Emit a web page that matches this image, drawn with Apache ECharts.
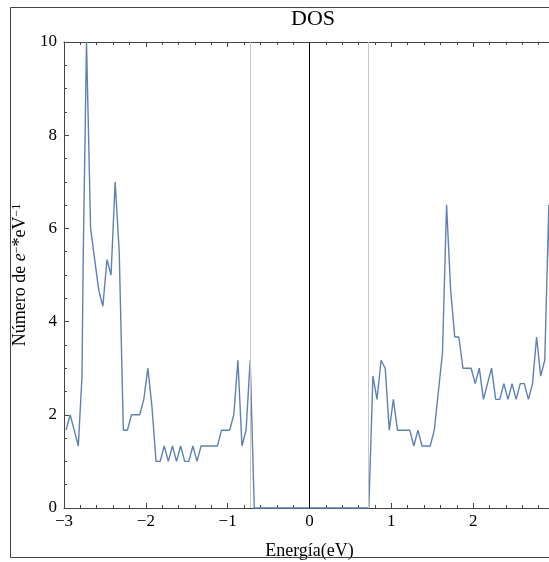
<!DOCTYPE html>
<html>
<head>
<meta charset="utf-8">
<script src="https://cdn.jsdelivr.net/npm/echarts@6/dist/echarts.min.js"></script>
<style>
html,body{margin:0;padding:0;background:#fff;overflow:hidden;}
#c{width:600px;height:562px;}
</style>
</head>
<body>
<div id="c"></div>
<script>
// Energy grid (eV) and density of states
const energy = [
 -2.975,-2.925,-2.875,-2.825,-2.78,-2.765,-2.725,-2.675,-2.625,-2.575,-2.525,-2.475,-2.425,-2.375,-2.325,
 -2.275,-2.225,-2.175,-2.125,-2.075,-2.025,-1.975,-1.925,-1.875,-1.825,-1.775,-1.725,-1.675,-1.625,-1.575,
 -1.525,-1.475,-1.425,-1.375,-1.325,-1.275,-1.225,-1.175,-1.125,-1.075,-1.025,-0.975,-0.925,-0.875,-0.825,
 -0.775,-0.725,-0.675,-0.625,-0.575,-0.525,-0.475,-0.425,-0.375,-0.325,-0.275,-0.225,-0.175,-0.125,-0.075,
 -0.025,0.025,0.075,0.125,0.175,0.225,0.275,0.325,0.375,0.425,0.475,0.525,0.575,0.625,0.675,0.725,
 0.775,0.825,0.875,0.925,0.975,1.025,1.075,1.125,1.175,1.225,1.275,1.325,1.375,1.425,1.475,1.525,1.575,
 1.625,1.675,1.725,1.775,1.825,1.875,1.925,1.975,2.025,2.075,2.125,2.175,2.225,2.275,2.325,2.375,2.425,
 2.475,2.525,2.575,2.625,2.675,2.725,2.775,2.825,2.875,2.925,2.975
];
const dos = [
 1.67,2.0,1.67,1.33,2.83,5.4,10.0,6.0,5.33,4.67,4.33,5.33,5.0,7.0,5.5,
 1.67,1.67,2.0,2.0,2.0,2.33,3.0,2.17,1.0,1.0,1.33,1.0,1.33,1.0,1.33,
 1.0,1.0,1.33,1.0,1.33,1.33,1.33,1.33,1.33,1.67,1.67,1.67,2.0,3.17,1.33,
 1.67,3.17,0,0,0,0,0,0,0,0,0,0,0,0,0,
 0,0,0,0,0,0,0,0,0,0,0,0,0,0,0,0,
 2.83,2.33,3.17,3.0,1.67,2.33,1.67,1.67,1.67,1.67,1.33,1.67,1.33,1.33,1.33,1.67,2.5,
 3.33,6.5,4.67,3.67,3.67,3.0,3.0,3.0,2.67,3.0,2.33,2.67,3.0,2.33,2.33,2.67,2.33,
 2.67,2.33,2.67,2.67,2.33,2.67,3.67,2.83,3.17,6.5,0
];
const xTicks = { min: -3, max: 3, interval: 1 };
const yTicks = { min: 0, max: 10, interval: 2 };
const bandEdges = [-0.725, 0.725];
const fermiLevel = 0;

const serif = '"Liberation Serif","DejaVu Serif",serif';
const minus = v => String(v).replace('-', '\u2212');

const axisLineStyle = { color: '#444', width: 1 };
const chart = echarts.init(document.getElementById('c'));
chart.setOption({
  animation: false,
  backgroundColor: '#fff',
  title: {
    text: 'DOS', left: 308, top: 3, textAlign: 'center',
    textStyle: { fontFamily: serif, fontSize: 22, fontWeight: 'normal', color: '#000' }
  },
  graphic: [{
    type: 'rect', silent: true, z: 100,
    shape: { x: 10.5, y: 7.5, width: 640, height: 550 },
    style: { fill: 'none', stroke: '#444', lineWidth: 1 }
  }],
  grid: { left: 64, right: 45, top: 42, bottom: 54, outerBoundsMode: 'none', containLabel: false },
  xAxis: [{
    type: 'value', min: xTicks.min, max: xTicks.max, interval: xTicks.interval,
    position: 'bottom',
    name: 'Energía(eV)', nameLocation: 'middle', nameGap: 34,
    nameTextStyle: { fontFamily: serif, fontSize: 18, color: '#000' },
    axisLine: { onZero: false, lineStyle: axisLineStyle },
    axisTick: { inside: true, length: 5, lineStyle: axisLineStyle },
    minorTick: { show: true, splitNumber: 5, length: 3, lineStyle: axisLineStyle },
    axisLabel: { fontFamily: serif, fontSize: 17, color: '#000', margin: 5, formatter: minus },
    splitLine: { show: false }, minorSplitLine: { show: false }
  }, {
    type: 'value', min: xTicks.min, max: xTicks.max, interval: xTicks.interval,
    position: 'top',
    axisLine: { onZero: false, lineStyle: axisLineStyle },
    axisTick: { inside: true, length: 5, lineStyle: axisLineStyle },
    minorTick: { show: true, splitNumber: 5, length: 3, lineStyle: axisLineStyle },
    axisLabel: { show: false },
    splitLine: { show: false }
  }],
  yAxis: [{
    type: 'value', min: yTicks.min, max: yTicks.max, interval: yTicks.interval,
    name: 'Número de {i|e}{s|\u2212}*eV{s|\u22121}', nameLocation: 'middle', nameGap: 34, nameRotate: 90,
    nameTextStyle: {
      fontFamily: serif, fontSize: 18, color: '#000',
      rich: {
        i: { fontFamily: serif, fontSize: 18, fontStyle: 'italic', color: '#000' },
        s: { fontFamily: serif, fontSize: 12, color: '#000', verticalAlign: 'top', lineHeight: 14 }
      }
    },
    axisLine: { onZero: false, lineStyle: axisLineStyle },
    axisTick: { inside: true, length: 5, lineStyle: axisLineStyle },
    minorTick: { show: true, splitNumber: 4, length: 3, lineStyle: axisLineStyle },
    axisLabel: { fontFamily: serif, fontSize: 17, color: '#000', margin: 7 },
    splitLine: { show: false }, minorSplitLine: { show: false }
  }],
  series: [{
    type: 'line',
    data: energy.map((e, i) => [e, dos[i]]),
    showSymbol: false, symbol: 'none', clip: true,
    lineStyle: { color: '#5E81B5', width: 1.4 },
    markLine: {
      silent: true, symbol: 'none', label: { show: false }, animation: false,
      data: [
        { xAxis: bandEdges[0], lineStyle: { color: '#c8c8c8', width: 1, type: 'solid' } },
        { xAxis: bandEdges[1], lineStyle: { color: '#c8c8c8', width: 1, type: 'solid' } },
        { xAxis: fermiLevel, lineStyle: { color: '#000', width: 1, type: 'solid' } }
      ]
    }
  }]
});
</script>
</body>
</html>
